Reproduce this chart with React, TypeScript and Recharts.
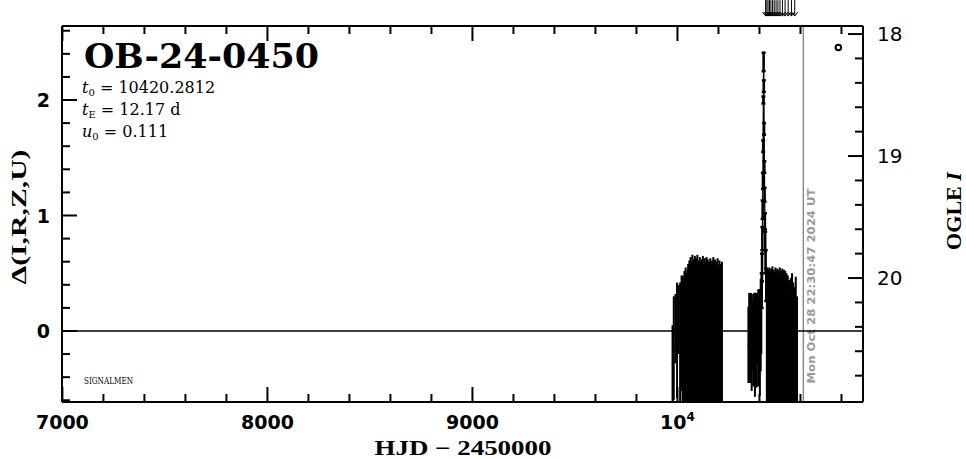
import React from 'react';
import {
  ComposedChart, XAxis, YAxis, Scatter, Line, ErrorBar, ReferenceLine,
} from 'recharts';

// [HJD - 2450000, delta mag, error]
const season2023: [number, number, number][] = [
  [9976, -0.28, 0.33], [9982, -0.15, 0.45], [9990, 0.02, 0.3], [9998, -0.08, 0.5],
  [10006, 0.1, 0.3], [10013, -0.1, 0.52], [10020, -0.02, 0.5], [10025, -0.08, 0.56],
  [10028, -0.095, 0.555], [10031, -0.125, 0.525], [10034, -0.065, 0.585], [10037, -0.085, 0.565],
  [10040, -0.05, 0.6], [10043, -0.075, 0.575], [10046, -0.105, 0.545], [10049, -0.06, 0.59],
  [10052, -0.035, 0.615], [10055, -0.08, 0.57], [10058, -0.02, 0.63], [10061, -0.045, 0.605],
  [10064, -0.005, 0.645], [10067, -0.065, 0.585], [10070, -0.025, 0.625], [10073, 0.005, 0.655],
  [10076, -0.05, 0.6], [10079, -0.015, 0.635], [10082, -0.035, 0.615], [10085, 0.0, 0.65],
  [10088, -0.075, 0.575], [10091, -0.01, 0.64], [10094, -0.03, 0.62], [10097, 0.005, 0.655],
  [10100, -0.055, 0.595], [10103, -0.02, 0.63], [10106, -0.04, 0.61], [10109, -0.005, 0.645],
  [10112, -0.065, 0.585], [10115, -0.025, 0.625], [10118, -0.015, 0.635], [10121, -0.045, 0.605],
  [10124, 0.0, 0.65], [10127, -0.035, 0.615], [10130, -0.06, 0.59], [10133, -0.01, 0.64],
  [10136, -0.025, 0.625], [10139, -0.05, 0.6], [10142, -0.005, 0.645], [10145, -0.07, 0.58],
  [10148, -0.015, 0.635], [10151, -0.04, 0.61], [10154, -0.025, 0.625], [10157, -0.055, 0.595],
  [10160, -0.01, 0.64], [10163, -0.035, 0.615], [10166, -0.08, 0.57], [10169, -0.02, 0.63],
  [10172, -0.045, 0.605], [10175, -0.005, 0.645], [10178, -0.06, 0.59], [10181, -0.03, 0.62],
  [10184, -0.015, 0.635], [10187, -0.05, 0.6], [10190, -0.025, 0.625], [10193, -0.075, 0.575],
  [10196, -0.01, 0.64], [10199, -0.04, 0.61], [10202, -0.065, 0.585], [10205, -0.02, 0.63],
  [10208, -0.05, 0.6], [10211, -0.035, 0.615], [10214, -0.09, 0.56], [10217, -0.025, 0.625],
];

const season2024: [number, number, number][] = [
  [10346, -0.12, 0.33], [10350, -0.05, 0.38], [10354, -0.15, 0.3], [10358, -0.02, 0.35],
  [10362, -0.1, 0.42], [10366, -0.04, 0.3], [10370, -0.08, 0.4], [10374, 0.0, 0.33],
  [10378, -0.12, 0.45], [10382, -0.03, 0.36], [10386, -0.08, 0.41], [10390, 0.02, 0.3],
  [10394, -0.06, 0.42], [10398, -0.02, 0.38], [10402, -0.1, 0.46], [10406, 0.05, 0.4],
  [10409, 0.1, 0.3],
  [10436, -0.075, 0.575], [10439, -0.09, 0.56], [10442, -0.06, 0.59], [10445, -0.08, 0.57],
  [10448, -0.05, 0.6], [10451, -0.07, 0.58], [10454, -0.095, 0.555], [10457, -0.055, 0.595],
  [10460, -0.075, 0.575], [10463, -0.045, 0.605], [10466, -0.085, 0.565], [10469, -0.06, 0.59],
  [10472, -0.07, 0.58], [10475, -0.09, 0.56], [10478, -0.05, 0.6], [10481, -0.065, 0.585],
  [10484, -0.08, 0.57], [10487, -0.055, 0.595], [10490, -0.075, 0.575], [10493, -0.095, 0.555],
  [10496, -0.06, 0.59], [10499, -0.05, 0.6], [10502, -0.085, 0.565], [10505, -0.065, 0.585],
  [10508, -0.075, 0.575], [10511, -0.055, 0.595], [10514, -0.09, 0.56], [10517, -0.07, 0.58],
  [10520, -0.06, 0.59], [10523, -0.08, 0.57], [10526, -0.065, 0.585], [10529, -0.1, 0.55],
  [10532, -0.075, 0.575], [10535, -0.175, 0.475], [10538, -0.085, 0.565], [10541, -0.215, 0.435],
  [10544, -0.105, 0.545], [10547, -0.15, 0.5], [10550, -0.25, 0.4], [10553, -0.095, 0.555],
  [10556, -0.185, 0.465], [10559, -0.075, 0.575], [10562, -0.225, 0.425], [10565, -0.115, 0.535],
  [10568, -0.265, 0.385], [10571, -0.135, 0.515], [10574, -0.2, 0.45], [10577, -0.09, 0.56],
  [10580, -0.235, 0.415], [10583, -0.175, 0.475],
];

const peak2024: [number, number, number][] = [
  [10411, 0.35, 0.15], [10412.5, 0.55, 0.12], [10414, 0.8, 0.1], [10415.5, 1.05, 0.08],
  [10416.8, 1.3, 0.07], [10418, 1.6, 0.05], [10419.2, 2.0, 0.03], [10420.2, 2.33, 0.08],
  [10421.3, 2.12, 0.05], [10422.5, 1.75, 0.05], [10423.8, 1.42, 0.05], [10425, 1.18, 0.06],
  [10426.5, 0.95, 0.07], [10428, 0.78, 0.08], [10430, 0.6, 0.1], [10433, 0.4, 0.14],
];

// point-lens model curve (t0 = 10420.2812, tE = 12.17 d, u0 = 0.111)
const modelHjd = [6998, 10390, 10400, 10405, 10410, 10413, 10415, 10417, 10418.5,
  10419.5, 10420.3, 10421, 10422, 10423.5, 10425.5, 10428, 10431, 10436, 10441, 10451, 10905];
const modelDelta = [0, 0, 0.1, 0.2, 0.4, 0.65, 0.95, 1.4, 1.8,
  2.15, 2.39, 2.25, 1.95, 1.55, 1.1, 0.7, 0.4, 0.2, 0.1, 0, 0];

const arrowHjd = [10430, 10436, 10442, 10449, 10456, 10464, 10472, 10481, 10490, 10500,
  10512, 10525, 10540, 10556, 10572];

const ogleHjd = [10785];
const ogleMag = [18.11];

const xTicks = [7000, 7200, 7400, 7600, 7800, 8000, 8200, 8400, 8600, 8800, 9000, 9200,
  9400, 9600, 9800, 10000, 10200, 10400, 10600, 10800];
const deltaTicks = [-0.6, -0.4, -0.2, 0, 0.2, 0.4, 0.6, 0.8, 1, 1.2, 1.4, 1.6, 1.8, 2, 2.2, 2.4, 2.6];
const magTicks = [18, 18.2, 18.4, 18.6, 18.8, 19, 19.2, 19.4, 19.6, 19.8, 20, 20.2, 20.4, 20.6, 20.8];

const PLOT = { left: 62, right: 863, top: 26, bottom: 402 };
const DELTA_MIN = -0.615;
const isInt = (v: number) => Math.abs(v - Math.round(v)) < 1e-6;
const tickFont = { fontFamily: 'DejaVu Sans', fontSize: 19 };

const BottomTick = (p: any) => {
  const v = p.payload.value;
  const major = v % 1000 === 0;
  return (
    <g>
      <line x1={p.x} x2={p.x} y1={PLOT.bottom} y2={PLOT.bottom - (major ? 15 : 8)} stroke="#000" strokeWidth={2} />
      {major && (
        <text x={p.x} y={429} textAnchor="middle" fontWeight="bold" {...tickFont}>
          {v === 10000 ? <>10<tspan fontSize={12} dy={-8}>4</tspan></> : v}
        </text>
      )}
    </g>
  );
};

const TopTick = (p: any) => {
  const major = p.payload.value % 1000 === 0;
  return <line x1={p.x} x2={p.x} y1={PLOT.top} y2={PLOT.top + (major ? 15 : 8)} stroke="#000" strokeWidth={2} />;
};

const LeftTick = (p: any) => {
  const v = p.payload.value;
  const major = isInt(v);
  return (
    <g>
      <line x1={PLOT.left} x2={PLOT.left + (major ? 15 : 8)} y1={p.y} y2={p.y} stroke="#000" strokeWidth={2} />
      {major && (
        <text x={50} y={p.y} dy={7} textAnchor="end" fontWeight="bold" {...tickFont}>{v}</text>
      )}
    </g>
  );
};

const RightTick = (p: any) => {
  const v = p.payload.value;
  const major = isInt(v);
  return (
    <g>
      <line x1={PLOT.right} x2={PLOT.right - (major ? 15 : 8)} y1={p.y} y2={p.y} stroke="#000" strokeWidth={2} />
      {major && (
        <text x={877} y={p.y} dy={7} textAnchor="start" {...tickFont} fontSize={20}>{v}</text>
      )}
    </g>
  );
};

const Dot = (p: any) => <circle cx={p.cx} cy={p.cy} r={0.9} fill="#000" />;

const ArrowShape = (p: any) => {
  const x = p.x1;
  const yEnd = Math.max(p.y1, p.y2);
  const yStart = Math.min(p.y1, p.y2);
  return (
    <g stroke="#000" strokeWidth={1} fill="none">
      <line x1={x} x2={x} y1={yStart} y2={yEnd} />
      <path d={`M${x - 3},${yEnd - 4} L${x},${yEnd} L${x + 3},${yEnd - 4}`} />
    </g>
  );
};

// error bars are cut at the lower frame edge, as in the original plot
const toRows = (rows: [number, number, number][]) =>
  rows.map(([hjd, delta, err]) => ({ hjd, delta, err: [Math.min(err, delta - DELTA_MIN), err] }));

export default function App() {
  const s1 = toRows(season2023);
  const s2 = toRows(season2024);
  const pk = toRows(peak2024);
  const model = modelHjd.map((hjd, i) => ({ hjd, delta: modelDelta[i] }));
  const ogle = ogleHjd.map((hjd, i) => ({ hjd, mag: ogleMag[i] }));
  const axisLine = { stroke: '#000', strokeWidth: 2 };

  return (
    <div style={{ width: 966, height: 459, background: '#fff' }}>
      <style>{'body{margin:0}'}</style>
      <ComposedChart width={966} height={459} margin={{ top: 0, right: 0, bottom: 0, left: 0 }}>
        <XAxis xAxisId="bottom" type="number" dataKey="hjd" domain={[6998, 10905]} allowDataOverflow
          ticks={xTicks} interval={0} height={57} tickLine={false} axisLine={axisLine}
          tick={(p: any) => <BottomTick {...p} />} />
        <XAxis xAxisId="top" orientation="top" type="number" dataKey="hjd" domain={[6998, 10905]} allowDataOverflow
          ticks={xTicks} interval={0} height={26} tickLine={false} axisLine={axisLine}
          tick={(p: any) => <TopTick {...p} />} />
        <YAxis yAxisId="left" type="number" domain={[DELTA_MIN, 2.641]} allowDataOverflow
          ticks={deltaTicks} interval={0} width={62} tickLine={false} axisLine={axisLine}
          tick={(p: any) => <LeftTick {...p} />} />
        <YAxis yAxisId="mag" orientation="right" type="number" domain={[17.934, 21.016]} reversed allowDataOverflow
          ticks={magTicks} interval={0} width={103} tickLine={false} axisLine={axisLine}
          tick={(p: any) => <RightTick {...p} />} />

        <ReferenceLine xAxisId="bottom" yAxisId="left" x={10614} stroke="#8c8c8c" strokeWidth={1.5}
          label={() => (
            <text transform="translate(815,286) rotate(-90)" textAnchor="middle" fill="#999"
              fontFamily="DejaVu Sans" fontWeight="bold" fontSize={11} textLength={195} lengthAdjust="spacingAndGlyphs">
              Mon Oct 28 22:30:47 2024 UT
            </text>
          )} />

        <Line xAxisId="bottom" yAxisId="left" data={model} dataKey="delta" type="linear"
          stroke="#000" strokeWidth={1.3} dot={false} isAnimationActive={false} />

        <Scatter xAxisId="bottom" yAxisId="left" data={s1} dataKey="delta" shape={Dot} isAnimationActive={false}>
          <ErrorBar dataKey="err" direction="y" width={0} stroke="#000" strokeWidth={2} isAnimationActive={false} />
        </Scatter>
        <Scatter xAxisId="bottom" yAxisId="left" data={s2} dataKey="delta" shape={Dot} isAnimationActive={false}>
          <ErrorBar dataKey="err" direction="y" width={0} stroke="#000" strokeWidth={2} isAnimationActive={false} />
        </Scatter>
        <Scatter xAxisId="bottom" yAxisId="left" data={pk} dataKey="delta" shape={Dot} isAnimationActive={false}>
          <ErrorBar dataKey="err" direction="y" width={2} stroke="#000" strokeWidth={2.5} isAnimationActive={false} />
        </Scatter>
        <Scatter xAxisId="bottom" yAxisId="mag" data={ogle} dataKey="mag" isAnimationActive={false}
          shape={(p: any) => <circle cx={p.cx} cy={p.cy} r={2.8} fill="#fff" stroke="#000" strokeWidth={2} />} />

        {arrowHjd.map((h) => (
          <ReferenceLine key={h} xAxisId="bottom" yAxisId="left" ifOverflow="visible"
            segment={[{ x: h, y: 2.865 }, { x: h, y: 2.727 }]} shape={ArrowShape} />
        ))}

        <text x={84} y={68} fontFamily="DejaVu Serif" fontWeight="bold" fontSize={34}
          textLength={235} lengthAdjust="spacingAndGlyphs">OB-24-0450</text>
        <text x={82} y={93} fontFamily="DejaVu Serif" fontSize={16}>
          <tspan fontStyle="italic">t</tspan><tspan fontSize={10} dy={3}>0</tspan><tspan dy={-3}> = 10420.2812</tspan>
        </text>
        <text x={82} y={115} fontFamily="DejaVu Serif" fontSize={16}>
          <tspan fontStyle="italic">t</tspan><tspan fontSize={10} dy={3}>E</tspan><tspan dy={-3}> = 12.17 d</tspan>
        </text>
        <text x={82} y={137} fontFamily="DejaVu Serif" fontSize={16}>
          <tspan fontStyle="italic">u</tspan><tspan fontSize={10} dy={3}>0</tspan><tspan dy={-3}> = 0.111</tspan>
        </text>
        <text x={84} y={384} fontFamily="DejaVu Serif" fontSize={9} textLength={49} lengthAdjust="spacingAndGlyphs">SIGNALMEN</text>

        <text x={463} y={455} textAnchor="middle" fontFamily="Liberation Serif" fontWeight="bold" fontSize={21}
          textLength={177} lengthAdjust="spacingAndGlyphs">HJD − 2450000</text>
        <text transform="translate(26,217) rotate(-90)" textAnchor="middle" fontFamily="Liberation Serif"
          fontWeight="bold" fontSize={21} textLength={135} lengthAdjust="spacingAndGlyphs">Δ(I,R,Z,U)</text>
        <text transform="translate(961,211) rotate(-90)" textAnchor="middle" fontFamily="Liberation Serif"
          fontWeight="bold" fontSize={20} textLength={78} lengthAdjust="spacingAndGlyphs">
          OGLE <tspan fontStyle="italic">I</tspan>
        </text>
      </ComposedChart>
    </div>
  );
}
